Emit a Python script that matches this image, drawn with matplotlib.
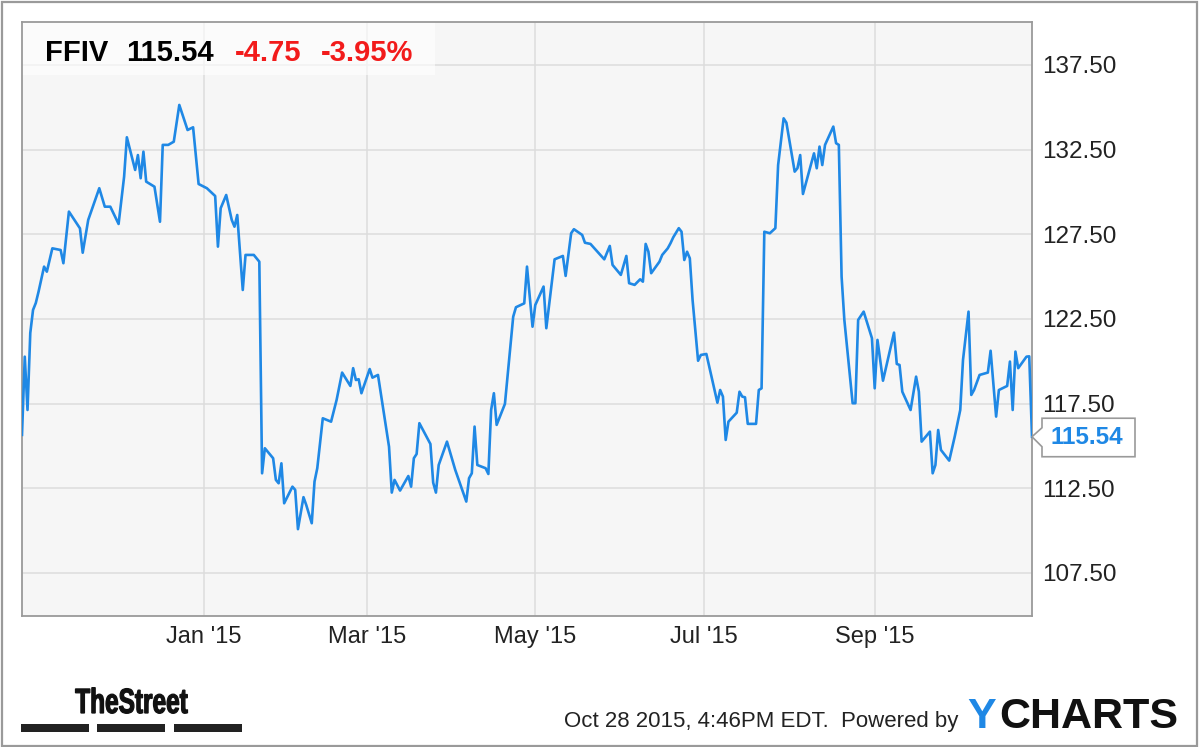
import pandas as pd
import matplotlib
matplotlib.use("Agg")
import matplotlib.pyplot as plt
import matplotlib.dates as mdates
from matplotlib.patches import Rectangle, Polygon, PathPatch
from matplotlib.textpath import TextPath
from matplotlib.font_manager import FontProperties
from matplotlib.transforms import IdentityTransform, Affine2D

# data
ticker = "FFIV"
dates = [
    "2014-10-27", "2014-10-28", "2014-10-29", "2014-10-30", "2014-10-31", "2014-11-01", "2014-11-02",
    "2014-11-04", "2014-11-05", "2014-11-07", "2014-11-10", "2014-11-11", "2014-11-13", "2014-11-17",
    "2014-11-18", "2014-11-20", "2014-11-24", "2014-11-26", "2014-11-28",
    "2014-12-01", "2014-12-03", "2014-12-04", "2014-12-07", "2014-12-08", "2014-12-09", "2014-12-10",
    "2014-12-11", "2014-12-14", "2014-12-16", "2014-12-17", "2014-12-19", "2014-12-21", "2014-12-23",
    "2014-12-26", "2014-12-28", "2014-12-30",
    "2015-01-02", "2015-01-05", "2015-01-06", "2015-01-07", "2015-01-09", "2015-01-11", "2015-01-12",
    "2015-01-13", "2015-01-15", "2015-01-16", "2015-01-19", "2015-01-21", "2015-01-22", "2015-01-23",
    "2015-01-26", "2015-01-27", "2015-01-28", "2015-01-29", "2015-01-30",
    "2015-02-02", "2015-02-03", "2015-02-04", "2015-02-06", "2015-02-07", "2015-02-09", "2015-02-10",
    "2015-02-11", "2015-02-13", "2015-02-16", "2015-02-18", "2015-02-20", "2015-02-23", "2015-02-24",
    "2015-02-25", "2015-02-26", "2015-02-27",
    "2015-03-02", "2015-03-03", "2015-03-05", "2015-03-09", "2015-03-10", "2015-03-11", "2015-03-13",
    "2015-03-16", "2015-03-17", "2015-03-18", "2015-03-19", "2015-03-20", "2015-03-24", "2015-03-25",
    "2015-03-26", "2015-03-27", "2015-03-30",
    "2015-04-02", "2015-04-06", "2015-04-07", "2015-04-08", "2015-04-09", "2015-04-10", "2015-04-13",
    "2015-04-14", "2015-04-15", "2015-04-16", "2015-04-17", "2015-04-20", "2015-04-23", "2015-04-24",
    "2015-04-27", "2015-04-28", "2015-04-30",
    "2015-05-01", "2015-05-04", "2015-05-05", "2015-05-08", "2015-05-11", "2015-05-12", "2015-05-14",
    "2015-05-15", "2015-05-18", "2015-05-19", "2015-05-21", "2015-05-26", "2015-05-28", "2015-05-29",
    "2015-06-01", "2015-06-03", "2015-06-04", "2015-06-06", "2015-06-08", "2015-06-09", "2015-06-10",
    "2015-06-11", "2015-06-12", "2015-06-15", "2015-06-16", "2015-06-18", "2015-06-19", "2015-06-20",
    "2015-06-22", "2015-06-23", "2015-06-24", "2015-06-25", "2015-06-26", "2015-06-27", "2015-06-29",
    "2015-06-30",
    "2015-07-02", "2015-07-06", "2015-07-07", "2015-07-08", "2015-07-09", "2015-07-10", "2015-07-13",
    "2015-07-14", "2015-07-15", "2015-07-16", "2015-07-17", "2015-07-20", "2015-07-21", "2015-07-22",
    "2015-07-23", "2015-07-25", "2015-07-27", "2015-07-28", "2015-07-30", "2015-07-31",
    "2015-08-03", "2015-08-04", "2015-08-05", "2015-08-06", "2015-08-10", "2015-08-11", "2015-08-12",
    "2015-08-13", "2015-08-14", "2015-08-17", "2015-08-18", "2015-08-19", "2015-08-20", "2015-08-21",
    "2015-08-24", "2015-08-25", "2015-08-26", "2015-08-28", "2015-08-31",
    "2015-09-01", "2015-09-02", "2015-09-04", "2015-09-08", "2015-09-09", "2015-09-10", "2015-09-11",
    "2015-09-14", "2015-09-16", "2015-09-17", "2015-09-18", "2015-09-21", "2015-09-22", "2015-09-23",
    "2015-09-24", "2015-09-25", "2015-09-28", "2015-09-30",
    "2015-10-02", "2015-10-03", "2015-10-05", "2015-10-06", "2015-10-07", "2015-10-09", "2015-10-12",
    "2015-10-13", "2015-10-15", "2015-10-16", "2015-10-19", "2015-10-20", "2015-10-21", "2015-10-22",
    "2015-10-23", "2015-10-26", "2015-10-27", "2015-10-28",
]
close = [
    115.65, 120.27, 117.12, 121.67, 123.03, 123.44, 124.11, 125.59, 125.29, 126.67, 126.57, 125.79,
    128.84, 127.85, 126.41, 128.35, 130.22, 129.13, 129.13,
    128.11, 130.90, 133.23, 131.30, 132.18, 130.81, 132.38, 130.61, 130.31, 128.24, 132.78, 132.78,
    132.97, 135.14, 133.66, 133.82, 130.47,
    130.22, 129.76, 126.77, 129.04, 129.82, 128.35, 127.95, 128.64, 124.21, 126.28, 126.28, 125.88,
    113.38, 114.86, 114.27, 112.99, 112.79, 113.97, 111.61,
    112.59, 112.40, 110.08, 111.97, 111.51, 110.43, 112.89, 113.68, 116.63, 116.43, 117.71, 119.33,
    118.54, 119.59, 118.89, 118.94, 118.11,
    119.54, 119.03, 119.19, 114.95, 112.24, 112.99, 112.36, 113.22, 112.59, 114.27, 114.52, 116.34,
    115.11, 112.83, 112.24, 113.87, 115.25,
    113.58, 111.71, 113.09, 113.38, 116.14, 113.87, 113.68, 113.34, 117.12, 118.11, 116.24, 117.48,
    122.63, 123.19, 123.42, 125.59, 122.04,
    123.32, 124.41, 121.95, 126.02, 126.22, 125.04, 127.56, 127.80, 127.46, 127.00, 126.93, 126.02,
    126.81, 125.69,
    125.10, 126.22, 124.61, 124.51, 124.84, 124.70, 126.93, 126.47, 125.20, 125.88, 126.28, 126.67,
    126.97, 127.32, 127.86, 127.65, 125.98, 126.47, 126.08, 123.62, 120.03, 120.37,
    120.43, 117.55, 118.30, 117.91, 115.35, 116.43, 116.96, 118.20, 117.91, 117.87, 116.30, 116.30,
    118.30, 118.40, 127.65, 127.56, 127.86, 131.59, 134.35, 134.09,
    131.20, 131.40, 132.18, 129.88, 132.28, 131.40, 132.68, 131.59, 132.78, 133.86, 132.88, 132.78,
    125.00, 122.44, 117.52, 117.52, 122.44, 122.93, 121.36,
    118.40, 121.26, 118.85, 121.69, 119.84, 119.78, 118.20, 117.12, 119.09, 118.20, 115.25, 115.84,
    113.38, 113.87, 115.94, 114.76, 114.13, 115.55,
    117.12, 120.08, 122.93, 118.01, 118.30, 119.19, 119.33, 120.62, 116.73, 118.30, 118.54, 119.98,
    117.12, 120.57, 119.59, 120.27, 120.29, 115.54,
]
y_ticks = [107.5, 112.5, 117.5, 122.5, 127.5, 132.5, 137.5]
x_tick_months = [1, 3, 5, 7, 9]
stamp = "Oct 28 2015, 4:46PM EDT.  Powered by"

BLUE = "#1f88e5"
RED = "#f21b1b"
W, H = 1200, 747
FONT = "Liberation Sans"


def fx(x):
    return x / W


def fy(y):
    return 1 - y / H


plt.rcParams["font.family"] = FONT

d = pd.to_datetime(dates)
fig = plt.figure(figsize=(W / 100, H / 100), dpi=100)
fig.patch.set_facecolor("white")

# outer frame
fig.add_artist(Rectangle((fx(1.5), fy(745.5)), fx(1195), 1 - fy(744), transform=fig.transFigure,
                         fill=False, ec="#9a9a9a", lw=1.6))

ax = fig.add_axes([fx(22), fy(616), fx(1010), 594 / H])
ax.set_facecolor("#f6f6f6")
ax.plot(d, close, color=BLUE, lw=1.9, zorder=3, solid_joinstyle="round")

ax.set_xlim(d[0], d[-1])
ax.set_ylim(104.95, 140.04)
ax.set_yticks(y_ticks)
ax.yaxis.set_major_formatter(plt.FormatStrFormatter("%.2f"))
ax.yaxis.tick_right()
ax.xaxis.set_major_locator(mdates.MonthLocator(bymonth=x_tick_months))
ax.xaxis.set_major_formatter(mdates.DateFormatter("%b '%y"))
ax.tick_params(axis="y", length=0, pad=7.5, labelsize=17.5, labelcolor="#222222")
ax.tick_params(axis="x", length=0, pad=7, labelsize=17, labelcolor="#222222")
ax.set_axisbelow(True)
ax.grid(True, color="#dcdcdc", lw=1.1)
for s in ax.spines.values():
    s.set_color("#9a9a9a")
    s.set_linewidth(1.3)

# header box
ax.add_patch(Rectangle((0, 1 - 53 / 594), 413 / 1010, 53 / 594, transform=ax.transAxes,
                       fc="white", ec="none", alpha=0.6, zorder=2.5))
last = close[-1]
chg = last - close[-2]
pct = chg / close[-2] * 100
base = fy(61)
fig.text(fx(45), base, ticker, fontsize=21, fontweight="bold", color="black", va="baseline")
fig.text(fx(126), base, f"{last:.2f}", fontsize=21, fontweight="bold", color="black", va="baseline")
fig.text(fx(235), base, f"{chg:.2f}", fontsize=21, fontweight="bold", color=RED, va="baseline")
fig.text(fx(321), base, f"{pct:.2f}%", fontsize=21, fontweight="bold", color=RED, va="baseline")

# last price flag
tx, ty = ax.transData.transform((mdates.date2num(d[-1]), last))
verts = [(tx, ty), (tx + 10, ty + 9), (tx + 10, ty + 18.5), (tx + 103, ty + 18.5),
         (tx + 103, ty - 20), (tx + 10, ty - 20), (tx + 10, ty - 10)]
fig.add_artist(Polygon(verts, closed=True, transform=IdentityTransform(), fc="white",
                       ec="#9a9a9a", lw=1.2))
fig.text(tx + 55, ty - 1, f"{last:.2f}", transform=IdentityTransform(), ha="center",
         va="center", fontsize=17.5, fontweight="bold", color=BLUE)

# footer: condensed "TheStreet" logo via a squeezed text path
logo = TextPath((0, 0), "TheStreet", size=35, prop=FontProperties(family=FONT, weight="bold"))
lb = logo.get_extents()
sx = 112 / lb.width
logo_tr = Affine2D().translate(-lb.x0, 0).scale(sx, 1).translate(75.5, H - 713)
fig.add_artist(PathPatch(logo, transform=logo_tr + IdentityTransform(), fc="#111111",
                         ec="#111111", lw=0.9))
for x0, x1 in [(21, 89), (97, 165), (174, 242)]:
    fig.add_artist(Rectangle((fx(x0), fy(732)), fx(x1 - x0), 8 / H, transform=fig.transFigure,
                             fc="#222222", ec="none"))
fig.text(fx(958), fy(727), stamp, fontsize=16, ha="right", va="baseline", color="#222222")
fig.text(fx(967), fy(728), "Y", fontsize=31, fontweight="bold", color=BLUE, va="baseline")
fig.text(fx(999), fy(728), "CHARTS", fontsize=31, fontweight="bold", color="#111111", va="baseline")

fig.savefig("out.png", dpi=100)
